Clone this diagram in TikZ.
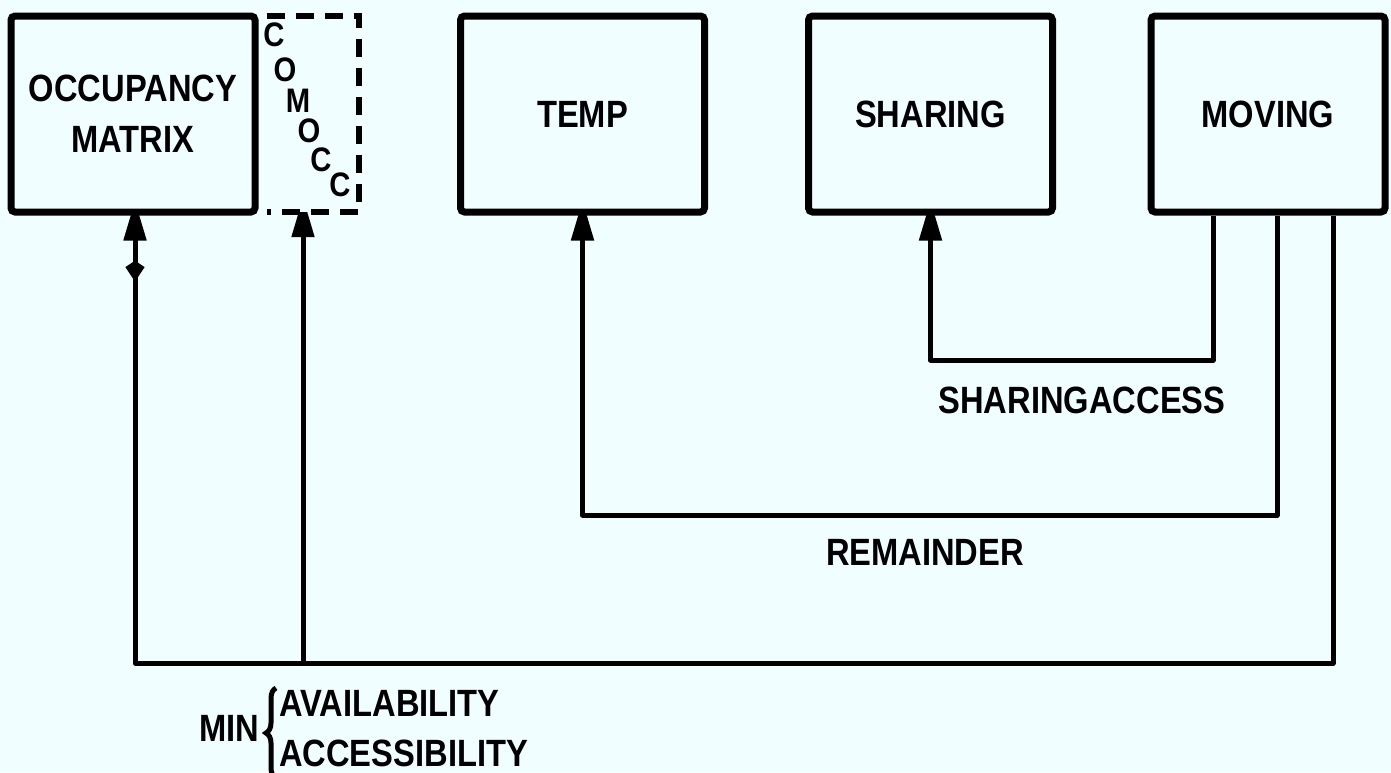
\documentclass[tikz,border=0pt]{standalone}
\usepackage{fontspec}
\newfontfamily\lbl[FakeStretch=0.86]{Liberation Sans}
\usetikzlibrary{arrows.meta,decorations.markings,decorations.pathreplacing}
\definecolor{bgc}{RGB}{240,254,255}
\pgfdeclarelayer{backdrop}
\pgfdeclarelayer{wires}
\pgfsetlayers{backdrop,wires,main}
\begin{document}
\begin{tikzpicture}[x=1pt,y=-1pt,
  txt/.style={font={\lbl\bfseries\fontsize{38}{51}\selectfont}, inner sep=0pt, align=center},
  letter/.style={font={\lbl\bfseries\fontsize{34}{40}\selectfont}, inner sep=0pt},
  box/.style={txt, draw, line width=7pt, rounded corners=4pt, fill=bgc, minimum width=244pt, minimum height=196pt},
  wire/.style={line width=5pt, line join=round},
  uptip/.style={{Triangle[length=40pt,width=22pt]}-, shorten <=-15pt},
]
\useasboundingbox (0,0) rectangle (1391,772);
\begin{pgfonlayer}{backdrop}
\fill[bgc] (0,0) rectangle (1391,772);
\end{pgfonlayer}

\node[box] (occ) at (133,114) {OCCUPANCY\\MATRIX};
\node[box] (temp) at (582.5,114) {TEMP};
\node[box] (shar) at (930.5,114) {SHARING};
\node[box, minimum width=234pt] (mov) at (1268,114) {MOVING};

\node[fill=bgc, minimum width=92pt, minimum height=196pt, inner sep=0pt] (com) at (313,114) {};
\draw[line width=6pt, dash pattern=on 18pt off 11pt] (com.north west) -- (com.north east) -- (com.south east) -- (com.south west);
\node[letter] (c1) at (274,35) {C};
\node[letter] (c2) at (285,70) {O};
\node[letter] (c3) at (298,101) {M};
\node[letter] (c4) at (309,131) {O};
\node[letter] (c5) at (321,160) {C};
\node[letter] (c6) at (340,185) {C};

\coordinate (b1) at (135,663);
\coordinate (b2) at (303,663);
\coordinate (b3) at (1333,663);
\coordinate (r1) at (1277,515);
\coordinate (s1) at (1213,360);

\begin{pgfonlayer}{wires}
\draw[wire, uptip, postaction={decorate}, decoration={markings, mark=at position 66pt with {\arrow[scale=1.6]{Kite[length=13pt,width=12pt,inset=4pt]}}}] (b1 |- occ.south) -- (b1) -- (b3) -- (b3 |- mov.south);
\draw[wire, uptip] (b2 |- com.south) -- (b2);
\draw[wire, uptip] (temp.south) -- (temp.south |- r1) -- (r1) -- (r1 |- mov.south);
\draw[wire, uptip] (shar.south) -- (shar.south |- s1) -- (s1) -- (s1 |- mov.south);
\end{pgfonlayer}

\node[txt] (sa) at (1082,400) {SHARINGACCESS};
\node[txt] (rem) at (925,552) {REMAINDER};
\node[txt] (min) at (229,728) {MIN};
\node[txt, anchor=west] (av) at (279,703) {AVAILABILITY};
\node[txt, anchor=west] (ac) at (279,753) {ACCESSIBILITY};
\coordinate (brtop) at (276,688);
\coordinate (brbot) at (276,778);
\draw[line width=5pt, decorate, decoration={brace, amplitude=10pt}] (brbot) -- (brtop);
\end{tikzpicture}
\end{document}
